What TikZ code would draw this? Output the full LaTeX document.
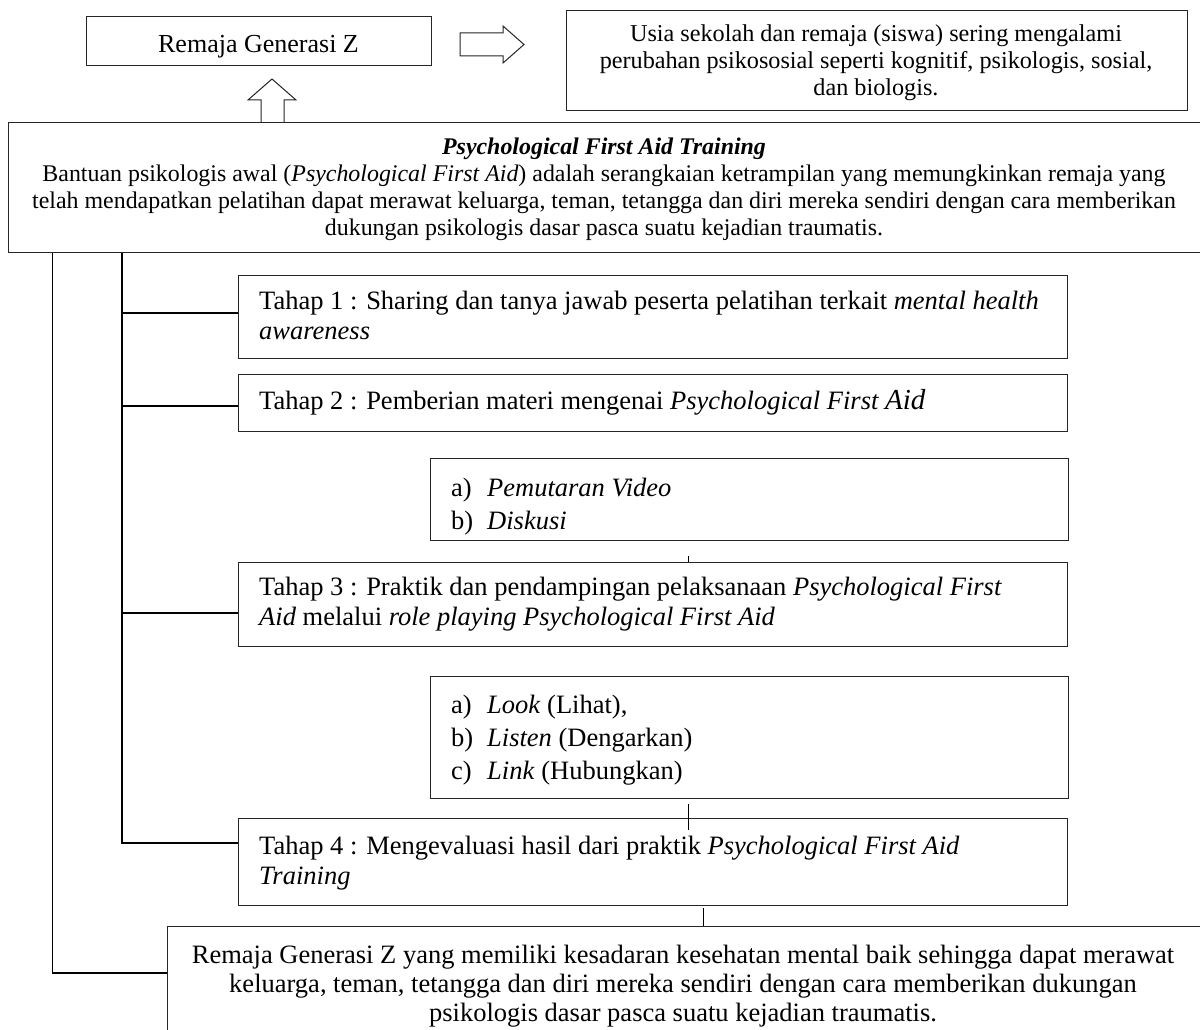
\documentclass[tikz,border=0pt]{standalone}
\usepackage{fontspec}
\setmainfont{Liberation Serif}
\newcommand\fAA{\fontsize{26}{29}\selectfont}
\newcommand\fA{\fontsize{23.9}{27}\selectfont}
\newcommand\fB{\fontsize{24.2}{27}\selectfont}
\newcommand\fT{\fontsize{26.5}{30}\selectfont}
\newcommand\fS{\fontsize{26.5}{33}\selectfont}
\newcommand\fF{\fontsize{26.5}{29}\selectfont}
\newcommand\itm[1]{\makebox[36pt][l]{#1}}
\begin{document}
\begin{tikzpicture}[x=1pt,y=-1pt,
  box/.style={draw=black!85,line width=1.1pt,rectangle,inner sep=0pt,anchor=north west,fill=white},
  txl/.style={inner sep=0pt,anchor=north west,align=left},
  txc/.style={inner sep=0pt,anchor=north,align=center},
  conn/.style={draw=black,line width=1.3pt},
  blk/.style={draw=black!85,line width=1pt,fill=white,line join=miter}]
\useasboundingbox[fill=white] (0,0) rectangle (1200,1030);

% boxes
\node[box,minimum width=345pt,minimum height=49pt] (A) at (86,16) {};
\node[box,minimum width=621pt,minimum height=100pt] (B) at (566,10) {};
\node[box,minimum width=1210pt,minimum height=130pt] (C) at (8,122) {};
\node[box,minimum width=829pt,minimum height=83pt] (T1) at (238,275) {};
\node[box,minimum width=829pt,minimum height=57pt] (T2) at (238,374) {};
\node[box,minimum width=638pt,minimum height=82pt] (S1) at (430,458) {};
\node[box,minimum width=829pt,minimum height=84pt] (T3) at (238,562) {};
\node[box,minimum width=638pt,minimum height=122pt] (S2) at (430,676) {};
\node[box,minimum width=829pt,minimum height=87pt] (T4) at (238,818) {};
\node[box,minimum width=1060pt,minimum height=130pt] (F) at (167,926) {};

% texts
\node[inner sep=0pt,anchor=base,font=\fAA] (tA) at (258.5,53) {Remaja Generasi Z};
\node[txc,font=\fB] (tB) at (876,22.1) {\strut Usia sekolah dan remaja (siswa) sering mengalami\\perubahan psikososial seperti kognitif, psikologis, sosial,\\dan biologis.};
\node[txc,font=\fA] (tC) at (604,135.1) {\strut\textbf{\textit{Psychological First Aid Training}}\\Bantuan psikologis awal (\textit{Psychological First Aid}) adalah serangkaian ketrampilan yang memungkinkan remaja yang\\telah mendapatkan pelatihan dapat merawat keluarga, teman, tetangga dan diri mereka sendiri dengan cara memberikan\\dukungan psikologis dasar pasca suatu kejadian traumatis.};
\node[txl,font=\fT] (tT1) at (259,288) {\strut Tahap 1 : Sharing dan tanya jawab peserta pelatihan terkait \textit{mental health}\\\textit{awareness}};
\node[txl,font=\fT] (tT2) at (259,388) {\strut Tahap 2 : Pemberian materi mengenai \textit{Psychological First {\fontsize{29}{30}\selectfont Aid}}};
\node[txl,font=\fS] (tS1) at (451,473) {\strut\itm{a)}\textit{Pemutaran Video}\\\itm{b)}\textit{Diskusi}};
\node[txl,font=\fT] (tT3) at (259,574) {\strut Tahap 3 : Praktik dan pendampingan pelaksanaan \textit{Psychological First}\\\textit{Aid} melalui \textit{role playing Psychological First Aid}};
\node[txl,font=\fS] (tS2) at (451,690) {\strut\itm{a)}\textit{Look} (Lihat),\\\itm{b)}\textit{Listen} (Dengarkan)\\\itm{c)}\textit{Link} (Hubungkan)};
\node[txl,font=\fT] (tT4) at (259,833) {\strut Tahap 4 : Mengevaluasi hasil dari praktik \textit{Psychological First Aid}\\\textit{Training}};
\node[txc,font=\fF] (tF) at (683,942.5) {\strut Remaja Generasi Z yang memiliki kesadaran kesehatan mental baik sehingga dapat merawat\\keluarga, teman, tetangga dan diri mereka sendiri dengan cara memberikan dukungan\\psikologis dasar pasca suatu kejadian traumatis.};

% block arrows
\draw[blk] (460,33) -- (503,33) -- (503,26) -- (524,44.5) -- (503,63) -- (503,56) -- (460,56) -- cycle;
\draw[blk] (261,122) -- (261,100) -- (248,100) -- (272,79) -- (296,100) -- (284,100) -- (284,122);

% trunk coordinates
\coordinate (outer) at (52.5,0);
\coordinate (inner) at (122,0);

% connectors
\draw[conn] (C.south -| outer) |- ([yshift=-47pt]F.north west);
\draw[conn] (C.south -| inner) |- ([yshift=-25pt]T4.north west);
\draw[conn] (inner |- T1.north west) ++(0,38) coordinate (j1) -- (j1 -| T1.west);
\draw[conn] (inner |- T2.north west) ++(0,32) coordinate (j2) -- (j2 -| T2.west);
\draw[conn] (inner |- T3.north west) ++(0,51) coordinate (j3) -- (j3 -| T3.west);

% small ticks
\coordinate (k1) at (688,556);
\draw[line width=1pt] (k1) -- (k1 |- T3.north);
\coordinate (k2a) at (688,804);
\coordinate (k2b) at (688,830);
\draw[line width=1pt] (k2a) -- (k2b);
\coordinate (k3) at (703,908);
\draw[line width=1pt] (k3) -- (k3 |- F.north);
\end{tikzpicture}
\end{document}
